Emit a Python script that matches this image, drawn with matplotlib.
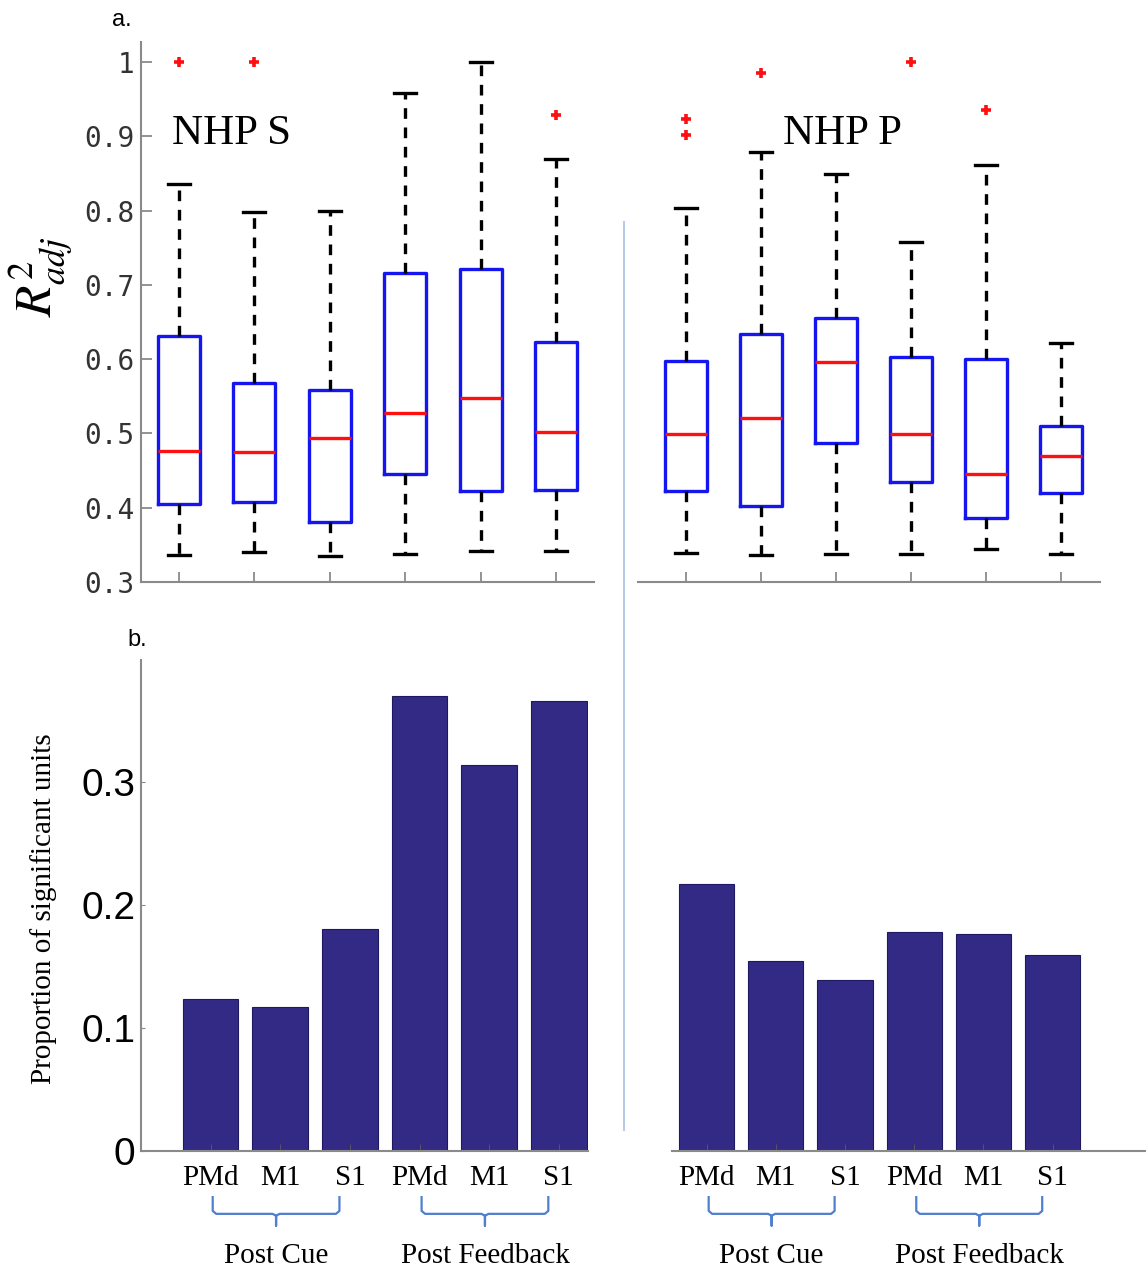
import matplotlib
matplotlib.use("Agg")
import matplotlib.pyplot as plt
import numpy as np
from matplotlib.lines import Line2D
from matplotlib.ticker import FixedLocator, FixedFormatter

plt.rcParams["mathtext.fontset"] = "stix"

# ---------------- data ----------------
regions = ["PMd", "M1", "S1", "PMd", "M1", "S1"]
groups = ["Post Cue", "Post Feedback"]

# NHP S box statistics
s_whislo = [0.336, 0.340, 0.335, 0.338, 0.342, 0.342]
s_q1     = [0.405, 0.408, 0.381, 0.445, 0.422, 0.424]
s_med    = [0.476, 0.475, 0.494, 0.527, 0.548, 0.502]
s_q3     = [0.631, 0.568, 0.558, 0.716, 0.721, 0.623]
s_whishi = [0.836, 0.798, 0.800, 0.958, 1.000, 0.869]
s_fliers = [[1.0], [1.0], [], [], [], [0.929]]

# NHP P box statistics
p_whislo = [0.339, 0.336, 0.338, 0.338, 0.344, 0.338]
p_q1     = [0.422, 0.402, 0.487, 0.435, 0.386, 0.420]
p_med    = [0.499, 0.521, 0.596, 0.499, 0.445, 0.470]
p_q3     = [0.597, 0.634, 0.655, 0.603, 0.600, 0.510]
p_whishi = [0.803, 0.879, 0.849, 0.758, 0.861, 0.622]
p_fliers = [[0.923, 0.902], [0.985], [], [1.0], [0.935], []]

# proportion of significant units
s_prop = [0.1236, 0.117, 0.180, 0.370, 0.314, 0.366]
p_prop = [0.217, 0.154, 0.139, 0.178, 0.176, 0.159]

r2_ticks = [0.3, 0.4, 0.5, 0.6, 0.7, 0.8, 0.9, 1.0]
r2_labels = ["0.3", "0.4", "0.5", "0.6", "0.7", "0.8", "0.9", "1"]
prop_ticks = [0, 0.1, 0.2, 0.3]
prop_labels = ["0", "0.1", "0.2", "0.3"]

# ---------------- figure ----------------
W, H = 1146, 1267
fig = plt.figure(figsize=(W / 100, H / 100), dpi=100)

def rect(l, r, t, b):
    return [l / W, 1 - b / H, (r - l) / W, (b - t) / H]

ax_a1 = fig.add_axes(rect(141, 594, 42, 582))
ax_a2 = fig.add_axes(rect(638, 1100, 42, 582))
ax_b1 = fig.add_axes(rect(141, 588, 660, 1151))
ax_b2 = fig.add_axes(rect(672, 1146, 660, 1151))

spine_col = "#8a8a8a"
serif = ["Liberation Serif", "DejaVu Serif"]
sans = ["Liberation Sans", "DejaVu Sans"]

def make_stats(lo, q1, med, q3, hi, fl):
    return [dict(whislo=a, q1=b, med=c, q3=d, whishi=e, fliers=np.array(f))
            for a, b, c, d, e, f in zip(lo, q1, med, q3, hi, fl)]

box_kw = dict(
    widths=0.55, capwidths=0.29, patch_artist=False,
    boxprops=dict(color="#1515f0", linewidth=2.4),
    medianprops=dict(color="#ff1010", linewidth=2.4),
    whiskerprops=dict(color="black", linewidth=2.4, linestyle=(0, (3.2, 2.6))),
    capprops=dict(color="black", linewidth=2.4),
    flierprops=dict(marker="+", markeredgecolor="#ff1010", markersize=7, markeredgewidth=2.6),
)

pos = np.arange(1, 7)
ax_a1.bxp(make_stats(s_whislo, s_q1, s_med, s_q3, s_whishi, s_fliers), positions=pos, **box_kw)
ax_a2.bxp(make_stats(p_whislo, p_q1, p_med, p_q3, p_whishi, p_fliers), positions=pos, **box_kw)

ax_a1.set_xlim(0.5, 6.5)
ax_a2.set_xlim(0.36, 6.52)
for ax in (ax_a1, ax_a2):
    ax.set_ylim(0.3, 1.027)
    ax.set_xticks(pos)
    ax.set_xticklabels([])
    for s in ("top", "right"):
        ax.spines[s].set_visible(False)
    ax.spines["bottom"].set_color(spine_col)
    ax.spines["left"].set_color(spine_col)
    ax.spines["bottom"].set_linewidth(1.5)
    ax.spines["left"].set_linewidth(1.5)
    ax.tick_params(axis="x", direction="in", length=7, color=spine_col, width=1.3)
    ax.patch.set_alpha(0)

ax_a1.yaxis.set_major_locator(FixedLocator(r2_ticks))
ax_a1.yaxis.set_major_formatter(FixedFormatter(r2_labels))
ax_a1.tick_params(axis="y", direction="in", length=8, width=1.3, color=spine_col,
                  pad=5, labelsize=20, labelcolor="#333333")
for lab in ax_a1.get_yticklabels():
    lab.set_family("DejaVu Sans Mono")
ax_a1.set_ylabel(r"$R^2_{adj}$", fontsize=37)
ax_a1.yaxis.set_label_coords((74 - 141) / 453, (582 - 277) / 540)

ax_a2.spines["left"].set_visible(False)
ax_a2.set_yticks([])

fig.text(172 / W, 1 - 134 / H, "NHP S", family=serif, fontsize=31, va="center", ha="left")
fig.text(783 / W, 1 - 134 / H, "NHP P", family=serif, fontsize=31, va="center", ha="left")

# ---------------- bars ----------------
bar_col = "#332a85"
ax_b1.bar(pos, s_prop, width=0.8, color=bar_col, edgecolor="#1e1860", linewidth=0.8)
ax_b2.bar(pos, p_prop, width=0.8, color=bar_col, edgecolor="#1e1860", linewidth=0.8)
ax_b1.set_xlim(0.0, 6.42)
ax_b2.set_xlim(0.5, 7.35)
for ax in (ax_b1, ax_b2):
    ax.set_ylim(0, 0.399)
    ax.set_xticks(pos)
    ax.set_xticklabels(regions, family=serif, fontsize=21)
    for s in ("top", "right"):
        ax.spines[s].set_visible(False)
    ax.spines["bottom"].set_color(spine_col)
    ax.spines["left"].set_color(spine_col)
    ax.spines["bottom"].set_linewidth(1.5)
    ax.spines["left"].set_linewidth(1.5)
    ax.tick_params(axis="x", direction="in", length=5, color="#555555", pad=10)
    ax.patch.set_alpha(0)

ax_b1.yaxis.set_major_locator(FixedLocator(prop_ticks))
ax_b1.yaxis.set_major_formatter(FixedFormatter(prop_labels))
ax_b1.tick_params(axis="y", direction="in", length=3, color=spine_col, pad=4, labelsize=28)
for lab in ax_b1.get_yticklabels():
    lab.set_family(sans)
ax_b1.set_ylabel("Proportion of significant units", family=serif, fontsize=21)
ax_b1.yaxis.set_label_coords((57 - 141) / 447, (1151 - 909) / 491)

ax_b2.spines["left"].set_visible(False)
ax_b2.set_yticks([])

# ---------------- braces ----------------
brace_col = "#4f7fd0"
def brace(ax, x0, x1, label):
    tr = ax.get_xaxis_transform()
    xa = x0 + 0.03
    xb = x1 - 0.15
    xm = (xa + xb) / 2
    top, mid, bot = -0.094, -0.128, -0.152
    ax.add_line(Line2D([xa, xa, xa + 0.05, xm - 0.05, xm, xm, xm, xm + 0.05, xb - 0.05, xb, xb],
                       [top, mid + 0.006, mid, mid, mid - 0.004, bot, mid - 0.004, mid, mid, mid + 0.006, top],
                       transform=tr, color=brace_col, lw=1.6, clip_on=False,
                       solid_joinstyle="round"))
    ax.text(xm, -0.213, label, transform=tr, ha="center", va="center",
            family=serif, fontsize=21)

for ax in (ax_b1, ax_b2):
    brace(ax, 1, 3, groups[0])
    brace(ax, 4, 6, groups[1])

# ---------------- panel letters and divider ----------------
fig.text(112 / W, 1 - 20 / H, "a.", family=sans, fontsize=17, va="center", ha="left")
fig.text(127 / W, 1 - 640 / H, "b.", family=sans, fontsize=17, va="center", ha="left")
fig.add_artist(Line2D([624 / W, 624 / W], [1 - 222 / H, 1 - 1130 / H],
                      transform=fig.transFigure, color="#b9c9ea", lw=1.5))

fig.savefig("out.png", dpi=100)
